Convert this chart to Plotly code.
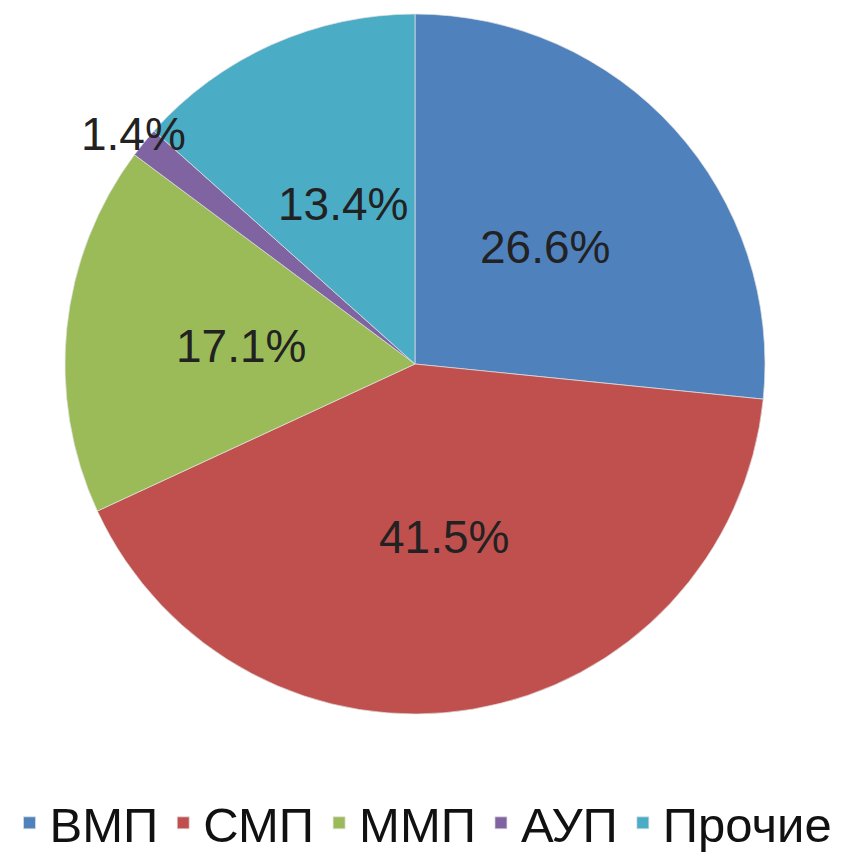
import math
import plotly.graph_objects as go

categories = ["ВМП", "СМП", "ММП", "АУП", "Прочие"]
values = [26.6, 41.5, 17.1, 1.4, 13.4]
colors = ["#4F81BD", "#C0504D", "#9BBB59", "#8064A2", "#4BACC6"]
# label distance from pie centre, as fraction of radius (style)
label_radius = [0.5, 0.5, 0.5, 1.04, 0.5]

OFF = 8                      # page body margin
W, H = 848 - OFF, 853 - OFF  # figure size
cx, cy, r = 415 - OFF, 364 - OFF, 350

fig = go.Figure(go.Pie(
    labels=categories,
    values=values,
    sort=False,
    direction="clockwise",
    rotation=0,
    marker=dict(colors=colors, line=dict(color="rgba(225,225,225,0.7)", width=1)),
    textinfo="none",
    domain=dict(x=[(cx - r) / W, (cx + r) / W], y=[1 - (cy + r) / H, 1 - (cy - r) / H]),
    hoverinfo="label+percent",
))

# data labels placed at mid-angle of each slice
total = sum(values)
cum = 0.0
for v, lr in zip(values, label_radius):
    mid = (cum + v / 2) / total
    cum += v
    ang = math.radians(90 - mid * 360)
    px = cx + lr * r * math.cos(ang)
    py = cy - lr * r * math.sin(ang)
    fig.add_annotation(
        x=px / W, y=1 - py / H, xref="paper", yref="paper",
        text=f"{v:.1f}%", showarrow=False,
        xanchor="center", yanchor="middle",
        font=dict(family="Liberation Sans, Arial, sans-serif", size=46, color="#222222"),
    )

fig.update_layout(
    width=W, height=H,
    margin=dict(l=0, r=0, t=0, b=0, autoexpand=False),
    paper_bgcolor="white",
    plot_bgcolor="white",
    font=dict(family="Liberation Sans, Arial, sans-serif", color="#111111"),
    legend=dict(
        orientation="h",
        xref="container", yref="container",
        x=(423.5 - OFF) / W, xanchor="center",
        y=1 - (823 - OFF) / H, yanchor="middle",
        font=dict(size=49, color="#111111"),
        itemwidth=30,
        traceorder="normal",
    ),
)

fig.write_html("out.html")
